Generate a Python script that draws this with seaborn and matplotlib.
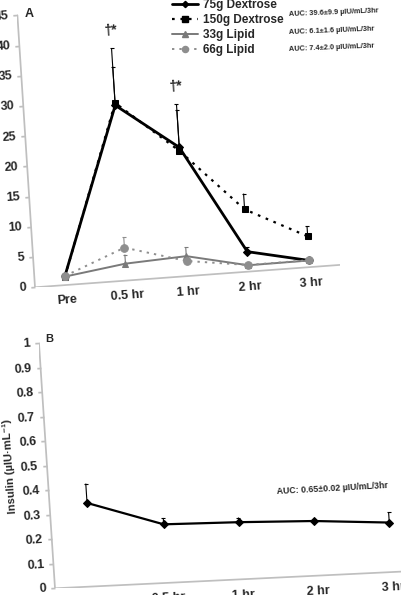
import numpy as np
import matplotlib
matplotlib.use('Agg')
import matplotlib.pyplot as plt
import seaborn as sns
from matplotlib.transforms import Affine2D
from matplotlib.lines import Line2D
from mpl_toolkits.axisartist import floating_axes
from mpl_toolkits.axisartist.grid_finder import FixedLocator

sns.set_theme(style='white')
plt.rcParams['font.family'] = ['Liberation Sans', 'DejaVu Sans']
plt.rcParams['font.weight'] = 'bold'

# data
times = ['Pre', '0.5 hr', '1 hr', '2 hr', '3 hr']
pos = np.arange(len(times))

dex75 = [1.5, 29.0, 21.3, 3.3, 1.1]
dex75_se = [0.0, 9.4, 7.1, 0.7, 0.0]
dex150 = [1.4, 29.4, 20.7, 10.3, 5.1]
dex150_se = [0.0, 6.0, 6.8, 2.6, 1.7]
lip33 = [1.4, 2.8, 3.3, 1.05, 1.1]
lip33_se = [0.0, 1.5, 1.5, 0.0, 0.0]
lip66 = [1.5, 5.45, 2.5, 1.1, 1.15]
lip66_se = [0.0, 1.75, 0.4, 0.0, 0.0]

auc_a = ['AUC: 39.6±9.9 µIU/mL/3hr', 'AUC: 6.1±1.6 µIU/mL/3hr', 'AUC: 7.4±2.0 µIU/mL/3hr']

insulin = [0.341, 0.239, 0.233, 0.223, 0.202]
insulin_se = [0.079, 0.026, 0.019, 0.006, 0.043]

W, H = 402, 595
fig = plt.figure(figsize=(W / 100, H / 100), dpi=100)


def skewed_axes(origin, xstep, ystep, xang, yang, ymax, yticks):
    # the scan is slightly tilted, so build the axes on an affine frame
    a, b = np.radians(xang), np.radians(yang)
    m = np.array([[xstep * np.cos(a), -ystep * np.sin(b), 0.5 * xstep * np.cos(a)],
                  [xstep * np.sin(a), ystep * np.cos(b), 0.5 * xstep * np.sin(a)],
                  [0, 0, 1]])
    tr = Affine2D(m)
    corners = tr.transform([[-0.5, 0], [4.5, 0], [-0.5, ymax], [4.5, ymax]])
    x0, y0 = corners.min(axis=0)
    x1, y1 = corners.max(axis=0)
    rect = [(origin[0] + x0) / W, (H - origin[1] + y0) / H, (x1 - x0) / W, (y1 - y0) / H]
    helper = floating_axes.GridHelperCurveLinear(
        tr, extremes=(-0.5, 4.5, 0, ymax),
        grid_locator1=FixedLocator(list(pos)),
        tick_formatter1=lambda d, f, v: [times[int(round(i))] for i in v],
        grid_locator2=FixedLocator(yticks),
        tick_formatter2=lambda d, f, v: [f'{i:g}' for i in v])
    ax = fig.add_axes(rect, axes_class=floating_axes.FloatingAxes, grid_helper=helper)
    ax.set_xlim(x0, x1)
    ax.set_ylim(y0, y1)
    ax.patch.set_facecolor('none')
    for side in ['top', 'right']:
        ax.axis[side].set_visible(False)
    for side in ['left', 'bottom']:
        ax.axis[side].line.set_color('0.75')
        ax.axis[side].major_ticks.set_color('0.75')
        ax.axis[side].major_ticklabels.set_fontsize(9)
        ax.axis[side].major_ticklabels.set_fontweight('bold')
    ax.axis['left'].major_ticks.set_tick_out(True)
    ax.axis['left'].major_ticks.set_ticksize(3)
    ax.axis['bottom'].major_ticks.set_visible(False)
    ax.axis['bottom'].major_ticklabels.set_pad(7)
    return ax, ax.get_aux_axes(tr)


# Panel A
axA, auxA = skewed_axes((35, 287.3), 61.2, 6.057, 4.2, 3.7, 45, list(range(0, 46, 5)))

series = [
    ('75g Dextrose', dex75, dex75_se, 'black', 2.0, '-', 'D', 4),
    ('150g Dextrose', dex150, dex150_se, 'black', 1.6, (0, (1.2, 2.6)), 's', 5),
    ('33g Lipid', lip33, lip33_se, '#7a7a7a', 1.4, '-', '^', 5),
    ('66g Lipid', lip66, lip66_se, '#8e8e8e', 1.4, (0, (1.2, 2.6)), 'o', 5.5),
]
handles = []
for name, vals, se, col, lw, ls, mk, ms in series:
    auxA.errorbar(pos, vals, yerr=[np.zeros(len(se)), se], fmt='none',
                  ecolor=col, elinewidth=0.8, capsize=1.6, capthick=0.8, zorder=1)
    sns.lineplot(x=pos, y=vals, ax=auxA, color=col, linewidth=lw, linestyle=ls,
                 marker=mk, markersize=ms, markeredgecolor=col, errorbar=None, zorder=2)
    handles.append(Line2D([], [], color=col, lw=lw, ls=ls, marker=mk,
                          markersize=ms * 0.8, markeredgecolor=col, label=name))

auxA.text(1, 41.3, '†*', ha='center', va='center', fontsize=10, fontweight='bold', rotation=4)
auxA.text(2, 31.4, '†*', ha='center', va='center', fontsize=10, fontweight='bold', rotation=4)

axA.legend(handles=handles, loc='upper left', bbox_to_anchor=(172 / W, 1 + 1 / H),
           bbox_transform=fig.transFigure, frameon=False,
           prop={'weight': 'bold', 'size': 8.5}, handlelength=2.2,
           handletextpad=0.4, labelspacing=0.25, borderpad=0, borderaxespad=0)

for txt, yy in zip(auc_a, [15, 32.5, 49.5]):
    fig.text(289 / W, 1 - yy / H, txt, fontsize=5.3, fontweight='bold',
             ha='left', va='center', rotation=2.3, rotation_mode='anchor')
fig.text(29 / W, 1 - 14 / H, 'A', fontsize=9, fontweight='bold', ha='center', va='center')

# Panel B
axB, auxB = skewed_axes((55, 588.3), 75.09, 245.5, 2.76, 3.74, 1,
                        [round(0.1 * i, 1) for i in range(11)])
auxB.errorbar(pos, insulin, yerr=[np.zeros(len(insulin_se)), insulin_se], fmt='none',
              ecolor='black', elinewidth=0.8, capsize=1.6, capthick=0.8, zorder=1)
sns.lineplot(x=pos, y=insulin, ax=auxB, color='black', linewidth=1.6, marker='D',
             markersize=4, markeredgecolor='black', errorbar=None, zorder=2)

fig.text(277 / W, 1 - 491.7 / H, 'AUC: 0.65±0.02 µIU/mL/3hr', fontsize=6.3,
         fontweight='bold', ha='left', va='center', rotation=3.1, rotation_mode='anchor')
fig.text(49 / W, 1 - 339 / H, 'B', fontsize=8, fontweight='bold', ha='center', va='center')
fig.text(10 / W, 1 - 466 / H, 'Insulin (µIU·mL⁻¹)', fontsize=8, fontweight='bold',
         ha='center', va='center', rotation=93.7)

fig.savefig('out.png', dpi=100)
